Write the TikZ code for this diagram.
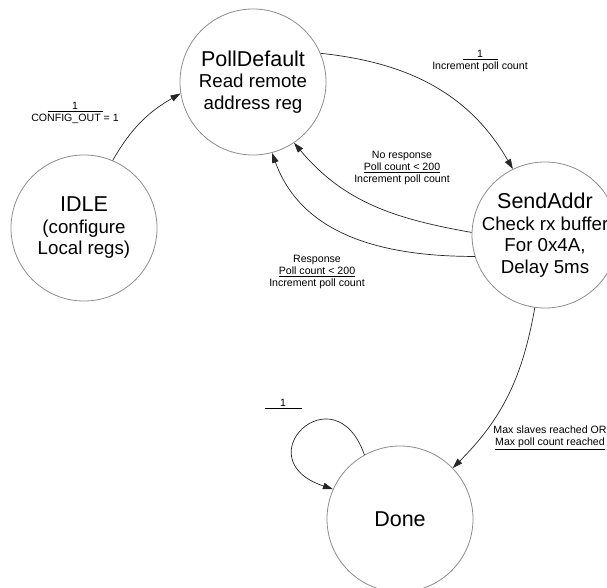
\documentclass[tikz,border=0pt]{standalone}
\usepackage{fontspec}
\setmainfont{Liberation Sans}
\usetikzlibrary{arrows.meta}

\newcommand{\statetitle}[1]{{\fontsize{21.5}{21.5}\selectfont #1}}

\begin{document}
\begin{tikzpicture}[x=1pt, y=1pt,
        state/.style={circle, draw=black!45, line width=0.8pt, minimum size=146pt, inner sep=-6pt, align=center, font=\fontsize{18.7}{21.5}\selectfont},
        trans/.style={-{Triangle[length=10pt,width=6.5pt]}, line width=0.7pt, draw=black!85},
        cond/.style={align=center, inner sep=0pt, font=\fontsize{10.6}{12}\selectfont}]

        % frame
        \useasboundingbox (0,0) rectangle (607,588);
        \clip (0,0) rectangle (607,588);

        % states
        \node[state] (poll) at (253,506) {\statetitle{PollDefault}\\Read remote\\address reg};
        \node[state] (idle) at (84,360) {\statetitle{IDLE}\\(configure\\Local regs)};
        \node[state] (send) at (545,353) {\statetitle{SendAddr}\\Check rx buffer\\For 0x4A,\\Delay 5ms};
        \node[state] (done) at (400,69) {\statetitle{Done}};

        % transitions
        \draw[trans] (idle.67) to[out=60, in=210] (poll.189);
        \draw[trans] (poll.23) to[out=-6, in=120] (send.116);
        \draw[trans] (send.178) to[out=170, in=-50] (poll.-56);
        \draw[trans] (send.197) to[out=180, in=-70] (poll.-75);
        \draw[trans] (send.-98) to[out=-100, in=45] (done.44);
        \draw[trans] (done.119) .. controls +(-30,85) and +(-90,30) .. (done.156);

        % conditions
        \node[cond] (cfg) at (75,475) {\underline{\makebox[55pt]{1}}\\CONFIG\_OUT = 1};
        \node[cond] (inc) at (480,527) {\underline{\makebox[35pt]{1}}\\Increment poll count};
        \node[cond] (nores) at (402,420) {No response\\\underline{Poll count < 200}\\Increment poll count};
        \node[cond] (res) at (317,316) {Response\\\underline{Poll count < 200}\\Increment poll count};
        \node[cond] (max) at (550,150) {Max slaves reached OR\\\underline{Max poll count reached}};
        \node[cond] (loop) at (283,184) {\underline{\makebox[37pt]{1}}};
    \end{tikzpicture}
\end{document}
